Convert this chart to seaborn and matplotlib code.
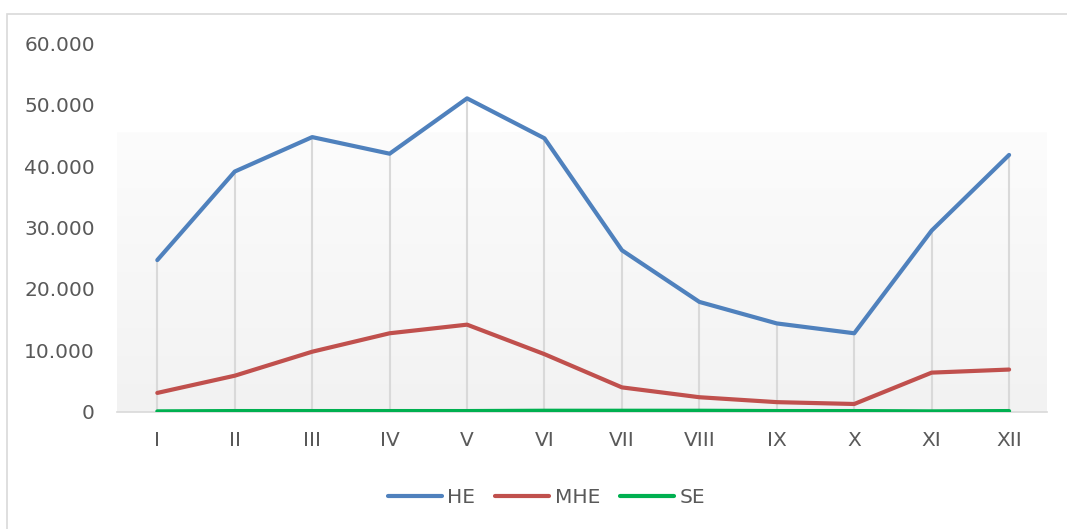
import matplotlib
matplotlib.use("Agg")
import matplotlib.pyplot as plt
import matplotlib.ticker as mticker
import numpy as np
import pandas as pd
import seaborn as sns
from matplotlib.patches import Rectangle

months = ["I", "II", "III", "IV", "V", "VI", "VII", "VIII", "IX", "X", "XI", "XII"]
he = [24700, 39100, 44700, 42000, 51000, 44500, 26300, 17900, 14400, 12800, 29500, 41800]
mhe = [3100, 5900, 9800, 12800, 14200, 9400, 4000, 2400, 1600, 1300, 6400, 6900]
se = [100, 150, 150, 150, 150, 200, 200, 200, 150, 150, 100, 150]
series_names = ["HE", "MHE", "SE"]
colors = ["#4F81BD", "#C0504D", "#00B050"]

df = pd.DataFrame({"month": months * 3,
                   "x": list(range(12)) * 3,
                   "value": he + mhe + se,
                   "series": [s for s in series_names for _ in months]})

sns.set_style("white")
plt.rcParams['font.family'] = ['DejaVu Sans']

fig = plt.figure(figsize=(10.67, 5.29), dpi=100)
ax = fig.add_axes([0.1097, 0.2212, 0.8716, 0.6975])

# outer chart border
fig.patches.append(Rectangle((7 / 1067, -0.1), 1.2, 0.1 + (529 - 14) / 529,
                             transform=fig.transFigure, fill=False,
                             edgecolor="#D9D9D9", lw=1.2))

# soft gradient in lower plot area
grad = np.linspace(0, 1, 256).reshape(-1, 1)
ax.imshow(grad, extent=[-0.52, 11.49, 0, 45500], aspect="auto",
          cmap=matplotlib.colors.LinearSegmentedColormap.from_list("g", ["#F2F2F2", "#FCFCFC"]),
          origin="lower", zorder=0)

# drop lines
ax.vlines(range(12), 0, he, colors="#D9D9D9", lw=1.5, zorder=1)

sns.lineplot(data=df, x="x", y="value", hue="series", palette=colors,
             lw=3.0, ax=ax, legend=False, zorder=3, solid_capstyle="round")

ax.set_xlim(-0.52, 11.49)
ax.set_ylim(0, 60000)
ax.set_xticks(range(12))
ax.set_xticklabels(months)
ax.set_yticks(range(0, 60001, 10000))
ax.yaxis.set_major_formatter(mticker.FuncFormatter(
    lambda v, p: f"{int(v):,}".replace(",", ".")))
ax.tick_params(axis="both", length=0, labelsize=14.5, colors="#595959")
ax.tick_params(axis="x", pad=14)
ax.tick_params(axis="y", pad=16)
for s in ["top", "right", "left"]:
    ax.spines[s].set_visible(False)
ax.spines["bottom"].set_color("#D9D9D9")
ax.spines["bottom"].set_linewidth(1.2)
ax.set_xlabel("")
ax.set_ylabel("")

handles = [plt.Line2D([0], [0], color=c, lw=3.0, solid_capstyle="round") for c in colors]
fig.legend(handles, series_names, loc="center", bbox_to_anchor=(0.512, 0.06), ncol=3,
           frameon=False, fontsize=14.5, labelcolor="#595959", handlelength=2.7,
           handletextpad=0.25, columnspacing=1.0)

fig.savefig("out.png", dpi=100, facecolor="white")
